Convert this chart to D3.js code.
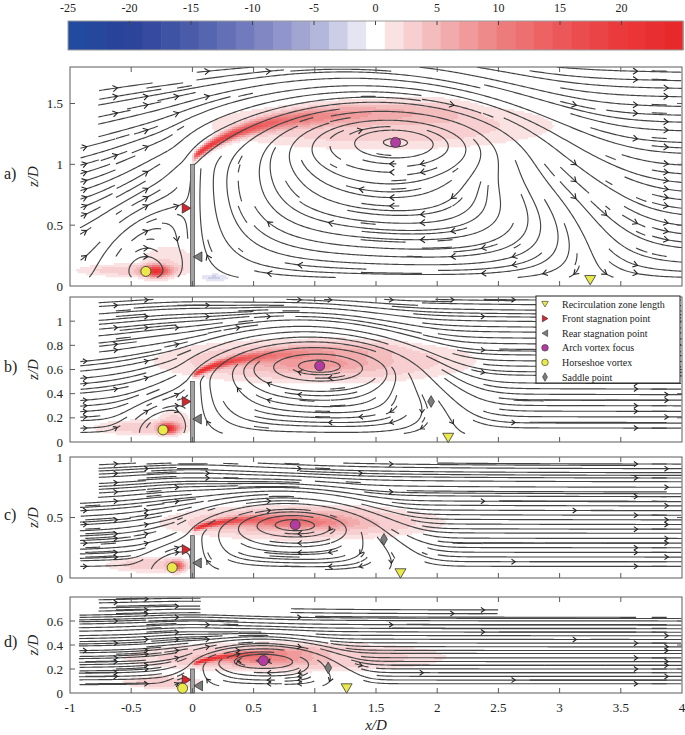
<!DOCTYPE html>
<html>
<head>
<meta charset="utf-8">
<script src="https://cdn.jsdelivr.net/npm/d3@7/dist/d3.min.js"></script>
<style>
  body { margin: 0; background: #fff; }
  svg text { fill: #222; }
</style>
</head>
<body>
<svg id="chart" width="685" height="735"></svg>
<script>
// ---- values ----
const panelNames = ["a)", "b)", "c)", "d)"];
const zMax = [1.8, 1.2, 1.0, 0.8];
const zTicks = [[0, 0.5, 1, 1.5], [0, 0.2, 0.4, 0.6, 0.8, 1], [0, 0.5, 1], [0, 0.2, 0.4, 0.6]];
const xTicks = [-1, -0.5, 0, 0.5, 1, 1.5, 2, 2.5, 3, 3.5, 4];
const cbTicks = [-25, -20, -15, -10, -5, 0, 5, 10, 15, 20];
const wallH = [1.0, 0.5, 0.35, 0.2];

// marker positions, [x/D, z/D]
const recirc = [[3.25, 0.05], [2.09, 0.036], [1.70, 0.04], [1.26, 0.04]];
const frontStag = [[-0.05, 0.64], [-0.05, 0.335], [-0.05, 0.235], [-0.05, 0.11]];
const rearStag = [[0.045, 0.24], [0.04, 0.19], [0.04, 0.124], [0.05, 0.06]];
const archFocus = [[1.66, 1.18], [1.04, 0.63], [0.84, 0.44], [0.58, 0.27]];
const hsFocus = [[-0.38, 0.12], [-0.24, 0.10], [-0.165, 0.086], [-0.08, 0.04]];
const saddle = [null, [1.95, 0.335], [1.565, 0.32], [1.11, 0.21]];

// flow-model parameters (bubble height, horseshoe reach, core sizes)
const bubbleTop = [1.4, 0.8, 0.56, 0.36];
const hsExtent = [0.75, 0.5, 0.36, 0.2];
const archCore = [[1.05, 0.3], [0.66, 0.17], [0.5, 0.13], [0.36, 0.08]];
const hsCore = [[0.3, 0.2], [0.2, 0.12], [0.14, 0.09], [0.08, 0.05]];

// measured PIV windows per panel: [x0, x1, z0, z1]
const windows = [
  [[-0.92, 4, 0.07, 1.22], [-0.77, 4, 0.07, 1.67], [0.03, 4, 0.07, 1.8]],
  [[-0.92, 4, 0.07, 0.68], [-0.77, 4, 0.07, 1.18]],
  [[-0.92, 4, 0.07, 0.63], [-0.77, 4, 0.07, 0.95]],
  [[-0.93, 4, 0.06, 0.66], [-0.77, 0.07, 0.06, 0.79], [0.8, 2.5, 0.06, 0.72]]
];

// vorticity: shear layer [z0, rise, riseLen, peak, decayLen, t0, t1, xEnd]
const shearLayers = [
  [1.05, 0.38, 0.45, 24, 0.85, 0.03, 0.04, 2.4],
  [0.55, 0.2, 0.35, 25, 0.6, 0.022, 0.035, 1.8],
  [0.40, 0.1, 0.25, 25, 0.5, 0.018, 0.03, 1.5],
  [0.24, 0.11, 0.3, 25, 0.45, 0.015, 0.025, 1.2]
];
// vorticity patches [cx, cz, rx, rz, value, power]
const vortBlobs = [
  [[1.55, 1.32, 1.35, 0.19, 2.6, 3], [-0.3, 0.12, 0.1, 0.045, 19, 1], [-0.5, 0.13, 0.42, 0.05, 2.8, 2], [-0.2, 0.2, 0.2, 0.12, 2.2, 2], [0.18, 0.07, 0.09, 0.025, -3, 1]],
  [[1.0, 0.67, 1.25, 0.18, 3, 3], [1.0, 0.64, 0.45, 0.06, 5, 1], [-0.2, 0.11, 0.07, 0.04, 20, 1], [-0.4, 0.12, 0.38, 0.06, 2.8, 2], [-0.15, 0.17, 0.12, 0.09, 2.5, 2]],
  [[0.9, 0.46, 1.1, 0.14, 3.2, 3], [0.85, 0.45, 0.45, 0.045, 7, 1], [-0.13, 0.1, 0.06, 0.04, 15, 1], [-0.35, 0.11, 0.33, 0.06, 2.8, 2]],
  [[0.75, 0.3, 1.25, 0.12, 3, 3], [0.55, 0.28, 0.4, 0.045, 7, 1], [-0.25, 0.09, 0.3, 0.05, 3, 2]]
];

const legendItems = [
  ["Recirculation zone length", "tridown", "#e9e94a"],
  ["Front stagnation point", "triright", "#d7262b"],
  ["Rear stagnation point", "trileft", "#7c7c7c"],
  ["Arch vortex focus", "circle", "#b23c9f"],
  ["Horseshoe vortex", "circle", "#e9e94a"],
  ["Saddle point", "diamond", "#7c7c7c"]
];

const FONT = '"Liberation Serif", "DejaVu Serif", serif';

// ---- layout ----
const svg = d3.select("#chart");
const x = d3.scaleLinear().domain([-1, 4]).range([70, 682]);
const panelTop = [67, 297, 457, 597];
const panelBot = [286, 442, 578, 693];

// colour map (33 discrete levels)
const nBins = 33, binW = 50 / nBins;
const cbStops = [-25, -20, -15, -10, -5, -1.5, 0, 1.5, 5, 10, 15, 20, 25];
const cbColors = ["#214ba0", "#2a4298", "#4a5caa", "#767ebe", "#acb0d8", "#e4e4f2", "#ffffff",
  "#fae2e2", "#f2b6b8", "#ee8080", "#ec585a", "#ea383a", "#e8262a"];
const ramp = d3.scaleLinear().domain(cbStops).range(cbColors).interpolate(d3.interpolateRgb).clamp(true);
const bins = d3.range(nBins).map(k => -25 + (k + 0.5) * binW);
const binOf = d3.scaleQuantize().domain([-25, 25]).range(d3.range(nBins));
const whiteBin = Math.floor(nBins / 2);

// colorbar
const cbx = d3.scaleLinear().domain([-25, 25]).range([68, 683]);
const cb = svg.append("g");
cb.selectAll("rect").data(bins).join("rect")
  .attr("x", d => cbx(d - binW / 2)).attr("width", cbx(binW) - cbx(0) + 0.6)
  .attr("y", 21).attr("height", 29).attr("fill", d => ramp(d));
cb.append("rect").attr("x", 68).attr("y", 21).attr("width", 615).attr("height", 29)
  .attr("fill", "none").attr("stroke", "#9a9a9a");
cb.selectAll("line").data(cbTicks.filter(t => t > -25)).join("line")
  .attr("x1", d => cbx(d)).attr("x2", d => cbx(d)).attr("y1", 21).attr("y2", 25)
  .attr("stroke", "#444");
cb.selectAll("text").data(cbTicks).join("text")
  .attr("x", d => cbx(d)).attr("y", 12).attr("text-anchor", "middle")
  .style("font-family", FONT).attr("font-size", 12).text(d => d);

// ---- flow model ----
function makeFlow(i) {
  const h = wallH[i];
  const zt = bubbleTop[i], xr = recirc[i][0];
  const q = Math.sqrt(1 - (h / zt) ** 2);
  const ax = xr / (1 + q), cx = q * ax;
  const ah = hsExtent[i], bh = frontStag[i][1];
  const pbase = (xd, zd) => {
    const re = xd * xd - zd * zd + h * h, im = 2 * xd * zd;
    const m = Math.sqrt(Math.hypot(re, im));
    return Math.abs(m * Math.sin(Math.atan2(im, re) / 2));
  };
  const parts = (xd, zd) => {
    const eps = 0.015 + 0.02 * h + 0.7 * Math.max(0, zd - h);
    const S = 0.5 * (1 + Math.tanh(xd / eps));
    const E = ((xd - cx) / ax) ** 2 + (zd / zt) ** 2;
    const Eh = (xd / ah) ** 2 + (zd / bh) ** 2;
    const F = Math.exp(1.0 * (1 - E * E)) * S;
    const Fh = Math.exp(0.8 * (1 - Eh * Eh)) * (1 - S);
    return [F, Fh];
  };
  const psi0 = (xd, zd) => {
    const [F, Fh] = parts(xd, zd);
    return pbase(xd, zd) * (1 - F - Fh);
  };
  const cores = [
    { t: archFocus[i], s: archCore[i], k: 0 },
    { t: hsFocus[i], s: hsCore[i], k: 1 }
  ];
  cores.forEach(c => { c.xc = c.t[0]; c.zc = c.t[1]; c.C = 0; c.pbc = pbase(c.t[0], c.t[1]); });
  const psi = (xd, zd) => {
    const pb = pbase(xd, zd);
    const fw = parts(xd, zd);
    let p = pb * (1 - fw[0] - fw[1]);
    for (const c of cores) {
      if (!c.C) continue;
      const W = fw[c.k], M = W * W / (1 + W * W);
      const g = Math.exp(-(((xd - c.xc) / c.s[0]) ** 2) - (((zd - c.zc) / c.s[1]) ** 2));
      p -= c.C * g * M * Math.tanh(3 * pb / c.pbc);
    }
    return p;
  };
  const dh = 1e-4;
  const grad = (f, xd, zd) => [(f(xd + dh, zd) - f(xd - dh, zd)) / (2 * dh), (f(xd, zd + dh) - f(xd, zd - dh)) / (2 * dh)];
  let minA = 0, minH = 0;
  for (let a = 0; a <= 60; a++) for (let b = 0; b <= 40; b++) {
    minA = Math.min(minA, psi0(a / 60 * xr, b / 40 * zt));
    minH = Math.min(minH, psi0(-a / 60 * ah, b / 40 * bh));
  }
  cores.forEach(c => {
    const g = grad(psi0, c.t[0], c.t[1]);
    const depth = c.k === 0 ? minA : minH;
    c.C = Math.max(1.5 * Math.abs(g[0]) * c.s[0], 1.5 * Math.abs(g[1]) * c.s[1], 2.2 * Math.abs(depth), 0.02 * h);
  });
  for (let it = 0; it < 80; it++) {
    cores.forEach(c => {
      const g = grad(psi, c.t[0], c.t[1]);
      const W = parts(c.t[0], c.t[1])[c.k], M = W * W / (1 + W * W);
      const lim = 0.05;
      c.xc += Math.max(-lim, Math.min(lim, g[0] * c.s[0] ** 2 / (2 * c.C * M)));
      c.zc += Math.max(-lim, Math.min(lim, g[1] * c.s[1] ** 2 / (2 * c.C * M)));
    });
  }
  return (xd, zd) => { const g = grad(psi, xd, zd); return [g[1], -g[0]]; };
}

function streamlines(i, flow, kx, kz) {
  const NX = 40, NZ = 52, NSX = 20, NSZ = 26, x0 = -1, x1 = 4, zm = zMax[i], h = wallH[i];
  const occ = new Int32Array(NX * NZ).fill(-1);
  const cellOf = (xd, zd) => {
    const a = Math.min(NX - 1, Math.max(0, Math.floor((xd - x0) / (x1 - x0) * NX)));
    const b = Math.min(NZ - 1, Math.max(0, Math.floor(zd / zm * NZ)));
    return b * NX + a;
  };
  const inside = (xd, zd) => windows[i].some(r => xd >= r[0] && xd <= r[1] && zd >= r[2] && zd <= r[3]);
  const step = 1.0;
  function trace(xs, zs, dir, id) {
    const out = [];
    let xd = xs, zd = zs, cur = cellOf(xd, zd);
    for (let n = 0; n < 3000; n++) {
      const v1 = flow(xd, zd);
      const m1 = Math.hypot(v1[0] * kx, v1[1] * kz);
      if (!(m1 > 1e-7)) break;
      const xm = xd + dir * 0.5 * step * v1[0] / m1, zmid = zd + dir * 0.5 * step * v1[1] / m1;
      const v2 = flow(xm, zmid);
      const m2 = Math.hypot(v2[0] * kx, v2[1] * kz);
      if (!(m2 > 1e-7)) break;
      if (v1[0] * v2[0] * kx * kx + v1[1] * v2[1] * kz * kz < 0) break;
      const xn = xd + dir * step * v2[0] / m2, zn = zd + dir * step * v2[1] / m2;
      if (!inside(xn, zn)) break;
      if ((xd < 0) !== (xn < 0) && Math.min(zd, zn) < h + 0.004) break;
      const c = cellOf(xn, zn);
      if (c !== cur) { if (occ[c] >= 0) break; occ[c] = id; cur = c; }
      xd = xn; zd = zn;
      out.push([xd, zd]);
    }
    return out;
  }
  const lines = [];
  const N = NSX * NSZ;
  const order = d3.range(N).map(k => (k * 37) % N);
  let id = 0;
  for (const k of order) {
    const r = Math.floor(k / NSX), c = k % NSX;
    const xs = x0 + (c + 0.5) / NSX * (x1 - x0), zs = (r + 0.5) / NSZ * zm;
    if (!inside(xs, zs)) continue;
    if (Math.abs(xs) < 0.01 && zs < h) continue;
    const cell = cellOf(xs, zs);
    if (occ[cell] >= 0) continue;
    occ[cell] = id;
    const f = trace(xs, zs, 1, id), b = trace(xs, zs, -1, id);
    const pts = b.reverse().concat([[xs, zs]], f);
    if (pts.length > 6) {
      const v = flow(xs, zs);
      lines.push({ pts, seed: [xs, zs], dir: v, arrow: f.length > 3 && b.length > 0 });
    }
    id++;
  }
  return lines;
}

function vort(i, xd, zd) {
  let w = 0;
  const sl = shearLayers[i];
  if (xd > 0 && xd < sl[7]) {
    const zc = sl[0] + sl[1] * (1 - Math.exp(-xd / sl[2]));
    const t = sl[5] + sl[6] * xd;
    const fadeIn = 1 - Math.exp(-xd / 0.03);
    const fadeOut = Math.min(1, (sl[7] - xd) / 0.3);
    w += sl[3] * Math.exp(-xd / sl[4]) * Math.exp(-(((zd - zc) / t) ** 2)) * fadeIn * fadeOut;
  }
  for (const b of vortBlobs[i]) {
    const e = ((xd - b[0]) / b[2]) ** 2 + ((zd - b[1]) / b[3]) ** 2;
    w += b[4] * Math.exp(-Math.pow(e, b[5]));
  }
  return Math.max(-24.9, Math.min(24.9, w));
}

function shapePath(shape, s) {
  const P = pts => "M" + pts.map(p => p.join(",")).join("L") + "Z";
  if (shape === "tridown") return P([[-s, -0.8 * s], [s, -0.8 * s], [0, 0.9 * s]]);
  if (shape === "triright") return P([[-0.8 * s, -s], [-0.8 * s, s], [0.9 * s, 0]]);
  if (shape === "trileft") return P([[0.8 * s, -s], [0.8 * s, s], [-0.9 * s, 0]]);
  if (shape === "diamond") return P([[0, -1.3 * s], [0.75 * s, 0], [0, 1.3 * s], [-0.75 * s, 0]]);
  return d3.symbol(d3.symbolCircle, Math.PI * s * s)();
}

// ---- panels ----
panelNames.forEach((name, i) => {
  const top = panelTop[i], bot = panelBot[i];
  const z = d3.scaleLinear().domain([0, zMax[i]]).range([bot, top]);
  const kx = x(1) - x(0), kz = z(0) - z(1);
  const g = svg.append("g");
  const clipId = "clip" + i;
  svg.append("clipPath").attr("id", clipId).append("rect")
    .attr("x", x(-1)).attr("y", top).attr("width", x(4) - x(-1)).attr("height", bot - top);

  // vorticity raster, merged into horizontal runs
  const cells = [];
  const cs = 2;
  for (let py = top; py < bot; py += cs) {
    let run = null;
    for (let px = x(-1); px < x(4); px += cs) {
      const b = binOf(vort(i, x.invert(px + cs / 2), z.invert(py + cs / 2)));
      if (run && run.b === b) { run.w += cs; continue; }
      if (run && run.b !== whiteBin) cells.push(run);
      run = { x: px, y: py, w: cs, b };
    }
    if (run && run.b !== whiteBin) cells.push(run);
  }
  g.append("g").attr("clip-path", `url(#${clipId})`).selectAll("rect").data(cells).join("rect")
    .attr("x", d => d.x).attr("y", d => d.y).attr("width", d => d.w + 0.3).attr("height", cs + 0.3)
    .attr("fill", d => ramp(bins[d.b]));

  // streamlines
  const flow = makeFlow(i);
  const lines = streamlines(i, flow, kx, kz);
  const lineGen = d3.line().x(d => x(d[0])).y(d => z(d[1]));
  const sg = g.append("g").attr("clip-path", `url(#${clipId})`);
  sg.selectAll("path.sl").data(lines).join("path").attr("class", "sl")
    .attr("d", d => lineGen(d.pts.filter((p, k) => k % 2 === 0 || k === d.pts.length - 1)))
    .attr("fill", "none").attr("stroke", "#444").attr("stroke-width", 1.15);
  const al = i === 0 ? 5.5 : 4.5, ang = 0.6;
  sg.selectAll("path.ar").data(lines.filter(d => d.arrow)).join("path").attr("class", "ar")
    .attr("d", d => {
      const px = x(d.seed[0]), py = z(d.seed[1]);
      const dx = d.dir[0] * kx, dy = -d.dir[1] * kz, m = Math.hypot(dx, dy);
      const ux = dx / m, uy = dy / m;
      const tx = px + ux * 1.5, ty = py + uy * 1.5;
      const w1 = [tx - al * (ux * Math.cos(ang) - uy * Math.sin(ang)), ty - al * (uy * Math.cos(ang) + ux * Math.sin(ang))];
      const w2 = [tx - al * (ux * Math.cos(ang) + uy * Math.sin(ang)), ty - al * (uy * Math.cos(ang) - ux * Math.sin(ang))];
      return `M${w1[0]},${w1[1]}L${tx},${ty}L${w2[0]},${w2[1]}`;
    })
    .attr("fill", "none").attr("stroke", "#222").attr("stroke-width", 1.1);

  // wall
  g.append("rect").attr("x", x(0) - 2).attr("y", z(wallH[i])).attr("width", 4)
    .attr("height", z(0) - z(wallH[i])).attr("fill", "#a3a3a3").attr("stroke", "#555").attr("stroke-width", 0.8);

  // frame and ticks
  g.append("rect").attr("x", x(-1)).attr("y", top).attr("width", x(4) - x(-1)).attr("height", bot - top)
    .attr("fill", "none").attr("stroke", "#5a5a5a").attr("stroke-width", 1);
  const tk = g.append("g").attr("stroke", "#5a5a5a");
  xTicks.slice(1, -1).forEach(t => {
    tk.append("line").attr("x1", x(t)).attr("x2", x(t)).attr("y1", bot).attr("y2", bot - 5);
    tk.append("line").attr("x1", x(t)).attr("x2", x(t)).attr("y1", top).attr("y2", top + 5);
  });
  zTicks[i].forEach(t => {
    if (t === 0 || z(t) <= top + 1) return;
    tk.append("line").attr("x1", x(-1)).attr("x2", x(-1) + 5).attr("y1", z(t)).attr("y2", z(t));
    tk.append("line").attr("x1", x(4)).attr("x2", x(4) - 5).attr("y1", z(t)).attr("y2", z(t));
  });
  g.selectAll("text.zt").data(zTicks[i]).join("text").attr("class", "zt")
    .attr("x", 63).attr("y", d => z(d) + 4.5).attr("text-anchor", "end")
    .style("font-family", FONT).attr("font-size", 13).text(d => d);
  g.append("text").attr("transform", `translate(38,${(top + bot) / 2}) rotate(-90)`)
    .attr("text-anchor", "middle").style("font-family", FONT).attr("font-size", 15)
    .attr("font-style", "italic").text("z/D");
  g.append("text").attr("x", 4).attr("y", (top + bot) / 2 + 2)
    .style("font-family", FONT).attr("font-size", 16).text(name);

  // markers
  const mk = g.append("g").attr("stroke", "#333").attr("stroke-width", 0.8);
  const put = (p, shape, fill, s) => {
    if (!p) return;
    mk.append("path").attr("d", shapePath(shape, s))
      .attr("transform", `translate(${x(p[0])},${z(p[1])})`).attr("fill", fill);
  };
  put(frontStag[i], "triright", "#d7262b", 5);
  put(rearStag[i], "trileft", "#7c7c7c", 5);
  put(archFocus[i], "circle", "#b23c9f", 5);
  put(hsFocus[i], "circle", "#e9e94a", 5);
  put(saddle[i], "diamond", "#7c7c7c", 4.5);
  put(recirc[i], "tridown", "#e9e94a", 5.5);

  if (i === 3) {
    g.selectAll("text.xt").data(xTicks).join("text").attr("class", "xt")
      .attr("x", d => x(d)).attr("y", bot + 19).attr("text-anchor", "middle")
      .style("font-family", FONT).attr("font-size", 13).text(d => d);
    g.append("text").attr("x", x(1.5)).attr("y", 730).attr("text-anchor", "middle")
      .style("font-family", FONT).attr("font-size", 15).attr("font-style", "italic").text("x/D");
  }
});

// legend (inside panel b)
const lg = svg.append("g").attr("transform", "translate(536,296)");
lg.append("rect").attr("width", 144).attr("height", 87).attr("fill", "#fff").attr("stroke", "#222").attr("stroke-width", 1);
legendItems.forEach((d, k) => {
  const y = 8 + k * 14.6;
  lg.append("path").attr("d", shapePath(d[1], 3.3)).attr("transform", `translate(9,${y})`)
    .attr("fill", d[2]).attr("stroke", "#333").attr("stroke-width", 0.6);
  lg.append("text").attr("x", 26).attr("y", y + 3.5).style("font-family", FONT)
    .attr("font-size", 10).text(d[0]);
});
</script>
</body>
</html>
